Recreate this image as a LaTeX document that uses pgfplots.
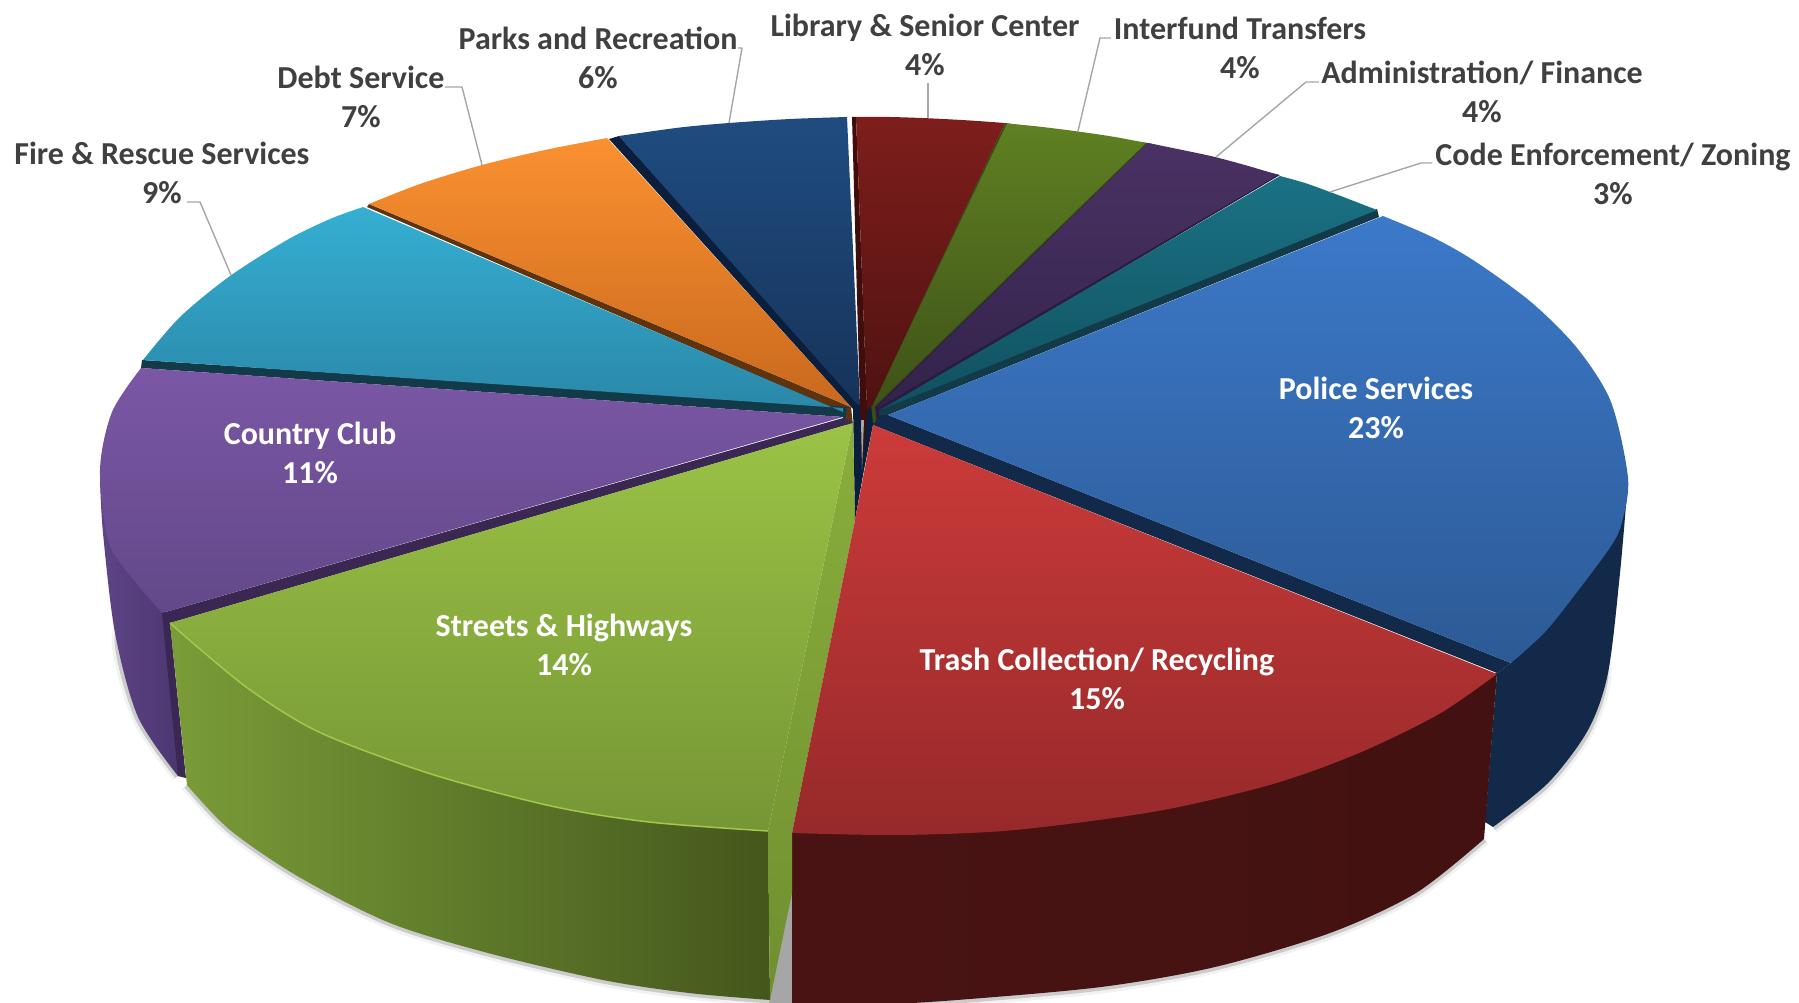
\documentclass[border=0pt]{standalone}
\usepackage{pgfplots}
\pgfplotsset{compat=1.18}
\usepackage{fontspec}
\setmainfont{Carlito}
\definecolor{lab}{HTML}{404040}
\definecolor{lead}{HTML}{A6A6A6}
\definecolor{blueT}{HTML}{3C79C9}\definecolor{blueB}{HTML}{2C5A95}
\definecolor{redT}{HTML}{CC3B3A}\definecolor{redB}{HTML}{97292A}
\definecolor{grnT}{HTML}{9BC346}\definecolor{grnB}{HTML}{769635}
\definecolor{purT}{HTML}{7B57A5}\definecolor{purB}{HTML}{624889}
\definecolor{cyaT}{HTML}{35AFD2}\definecolor{cyaB}{HTML}{2A87A8}
\definecolor{oraT}{HTML}{FA9030}\definecolor{oraB}{HTML}{C9691E}
\definecolor{navT}{HTML}{1F4C80}\definecolor{navB}{HTML}{16335A}
\definecolor{drdT}{HTML}{7E1E1C}\definecolor{drdB}{HTML}{4E1210}
\definecolor{dgrT}{HTML}{5F8022}\definecolor{dgrB}{HTML}{3E5218}
\definecolor{dpuT}{HTML}{4A3264}\definecolor{dpuB}{HTML}{32234A}
\definecolor{tlT}{HTML}{1A7284}\definecolor{tlB}{HTML}{105060}
\definecolor{blueW}{HTML}{12294A}
\definecolor{redW1}{HTML}{4A1313}\definecolor{redW2}{HTML}{380E0E}\definecolor{redW3}{HTML}{431111}
\definecolor{grnW1}{HTML}{7A9C38}\definecolor{grnW2}{HTML}{64802C}\definecolor{grnW3}{HTML}{44571C}
\definecolor{purW1}{HTML}{5E4486}\definecolor{purW2}{HTML}{564080}\definecolor{purW3}{HTML}{4B3670}
\definecolor{purS}{HTML}{3A2752}
\definecolor{cyaS}{HTML}{123A48}
\definecolor{oraS}{HTML}{5E3310}
\definecolor{navS}{HTML}{0B1F3C}
\definecolor{drdS}{HTML}{3F0D0C}
\definecolor{dgrS}{HTML}{3A4E14}
\definecolor{dpuS}{HTML}{2A1C40}
\definecolor{gryS}{HTML}{A6A6A6}
\definecolor{sidT}{HTML}{8AAE3C}\definecolor{sidB}{HTML}{6F8F30}
\definecolor{grnH}{HTML}{A3C84C}
\tikzset{
  f/.style n args={2}{draw=none,top color=#1,bottom color=#2},
  w/.style n args={3}{draw=none,left color=#1,middle color=#2,right color=#3},
  o/.style={draw=none,fill=#1},
  dl/.style={font=\fontsize{32}{39}\selectfont\bfseries,align=center,text=lab,inner sep=0pt},
  il/.style={font=\fontsize{32}{39}\selectfont\bfseries,align=center,text=white,inner sep=0pt},
  ld/.style={draw=lead,line width=1.4pt,line join=round},
  sa/.style={smooth,draw=black,opacity=.05,line width=13pt},
  sb/.style={smooth,draw=black,opacity=.16,line width=7pt}
}
\begin{document}
\begin{tikzpicture}
\path[use as bounding box] (0,0) rectangle (1799pt,1003pt);
\begin{axis}[at={(0,0)},anchor=south west,width=1799pt,height=1003pt,scale only axis,xmin=0,xmax=1799,ymin=0,ymax=1003,y dir=reverse,axis lines=none]
% soft shadow
\addplot[sa] coordinates {(135,590)(118,640)(138,717)(178,776)};
\addplot[sb] coordinates {(135,590)(118,640)(138,717)(178,776)};
\addplot[sa] coordinates {(187,785)(230,830)(299,877)(390,923)(488,953)(603,980)(689,993)(770,1000)};
\addplot[sb] coordinates {(187,785)(230,830)(299,877)(390,923)(488,953)(603,980)(689,993)(770,1000)};
\addplot[sa] coordinates {(1484,839)(1416,893)(1330,933)(1215,967)(1101,987)(957,1000)(860,1006)};
\addplot[sb] coordinates {(1484,839)(1416,893)(1330,933)(1215,967)(1101,987)(957,1000)(860,1006)};
\addplot[sa] coordinates {(1590,610)(1605,673)(1588,730)(1548,783)(1493,827)};
\addplot[sb] coordinates {(1590,610)(1605,673)(1588,730)(1548,783)(1493,827)};
\addplot[o=gryS] coordinates {(792,890)(769,1003)(795,1003)} -- cycle;
% walls
\addplot[smooth,w={blueW}{blueW}{blueW}] coordinates {(1628,480)(1620,573)(1608,673)(1588,730)(1548,783)(1493,827)} -- (axis cs:1485,822) -- (axis cs:1497,673) -- (axis cs:1511,663) -- cycle;
\addplot[smooth,w={purW1}{purW2}{purW3}] coordinates {(100,480)(103,533)(115,633)(138,717)(178,776)} -- (axis cs:184,776) -- (axis cs:170,623) -- cycle;
\addplot[o=purS] coordinates {(162,613)(170,623)(186,778)(178,776)} -- cycle;
\addplot[smooth,w={grnW1}{grnW2}{grnW3}] coordinates {(187,785)(230,830)(299,877)(390,923)(488,953)(603,980)(689,993)(770,1000)} -- (axis cs:768,831) -- (axis cs:170,623) -- cycle;
\addplot[smooth,w={redW1}{redW2}{redW3}] coordinates {(1484,839)(1416,893)(1330,933)(1215,967)(1101,987)(957,1000)(860,1006)} -- (axis cs:792,1010) -- (axis cs:792,833) -- (axis cs:1497,673) -- cycle;
\addplot[f={sidT}{sidB}] coordinates {(853,423)(837,500)(768,831)(770,1000)(792,893)(792,833)(855,520)} -- cycle;
\addplot[o=navS] coordinates {(853,405)(885,405)(888,415)(873,425)(864,470)(855,520)} -- cycle;
% back faces and cut strips
\addplot[o=navS] coordinates {(609,139)(619,136)(860,403)(862,418)(851,407)} -- cycle;
\addplot[o=oraS] coordinates {(369,204)(851,407)(853,425)(845,425)(845,410)(832,408)(367,207)} -- cycle;
\addplot[o=cyaS] coordinates {(142,360)(847,407)(845,425)(843,417)(141,368)} -- cycle;
\addplot[o=purS] coordinates {(162,613)(843,418)(853,423)(170,623)} -- cycle;
\addplot[smooth,f={cyaT}{cyaB}] coordinates {(143,360)(180,317)(230,276)(287,240)(330,219)(363,207)} -- (axis cs:843,412) -- (axis cs:843,408) -- cycle;
\addplot[smooth,f={oraT}{oraB}] coordinates {(369,204)(420,184)(482,165)(545,150)(607,138)} -- (axis cs:851,407) -- cycle;
\addplot[smooth,f={navT}{navB}] coordinates {(619,136)(680,127.5)(729,123)(790,119)(847,117)} -- (axis cs:860,405) -- (axis cs:858,405) -- cycle;
\addplot[smooth,f={purT}{purB}] coordinates {(141,368)(112,412)(100,470)(109,543)(138,585)(162,613)} -- (axis cs:843,417) -- cycle;
\addplot[o=drdS] coordinates {(852,117)(856,117)(867,407)(863,468)(860,405)} -- cycle;
\addplot[o=gryS] coordinates {(861,420)(864,420)(862,470)} -- cycle;
\addplot[o=dgrS] coordinates {(1005,123)(1148,143)(880,410)(877,423)(873,423)(871,405)} -- cycle;
\addplot[smooth,f={drdT}{drdB}] coordinates {(856,117)(890,117)(929,118.3)(970,120.5)(1005,123)} -- (axis cs:873,405) -- (axis cs:867,410) -- cycle;
\addplot[smooth,f={dgrT}{dgrB}] coordinates {(1007,123.5)(1040,126.7)(1078,131.5)(1115,137)(1146,143)} -- (axis cs:875,405) -- (axis cs:873,405) -- cycle;
\addplot[o=dpuS] coordinates {(1148,143)(1280,175)(880,412)(880,423)(877,423)(875,407)} -- cycle;
\addplot[smooth,f={dpuT}{dpuB}] coordinates {(1148,143)(1180,149.5)(1215,157)(1250,166.5)(1278,175)} -- (axis cs:879,407) -- (axis cs:877,407) -- cycle;
\addplot[o=cyaS] coordinates {(1377,209)(1379,217)(888,415)(880,425)(879,410)} -- cycle;
\addplot[smooth,f={tlT}{tlB}] coordinates {(1280,176)(1305,183)(1330,192)(1355,201.5)(1377,210)} -- (axis cs:880,410) -- cycle;
% front faces
\addplot[o=blueW] coordinates {(888,415)(1511,663)(1497,673)(873,425)(880,415)} -- cycle;
\addplot[smooth,f={blueT}{blueB}] coordinates {(1383,216)(1430,236)(1473,260)(1531,302)(1577,348)(1611,402)(1628,478)(1622,522)(1611,546)(1577,592)(1545,632)(1511,663)} -- (axis cs:888,415) -- cycle;
\addplot[smooth,f={redT}{redB}] coordinates {(1497,674)(1439,714)(1359,753)(1273,784)(1158,811)(1015,830)(900,835)(792,833)} -- (axis cs:855,520) -- (axis cs:873,425) -- cycle;
\addplot[smooth,f={grnT}{grnB}] coordinates {(170,623)(201,650)(253,692)(321,733)(431,774)(551,806)(649,822)(768,831)} -- (axis cs:837,500) -- (axis cs:853,423) -- cycle;
\addplot[smooth,draw=grnH,line width=1.5pt] coordinates {(170,623)(201,650)(253,692)(321,733)(431,774)(551,806)(649,822)(768,831)};
% leaders
\addplot[ld] coordinates {(187,202)(200,202)(231,275)};
\addplot[ld] coordinates {(445,87)(462,87)(482,165)};
\addplot[ld] coordinates {(738,48)(742,48)(729,123)};
\addplot[ld] coordinates {(928,83)(928,118)};
\addplot[ld] coordinates {(1111,38)(1100,38)(1078,131)};
\addplot[ld] coordinates {(1319,82)(1306,82)(1216,157)};
\addplot[ld] coordinates {(1432,163)(1421,163)(1330,192)};
% labels
\node[dl] at (axis cs:598,58) {Parks and Recreation\\6\%};
\node[dl] at (axis cs:361,97) {Debt Service\\7\%};
\node[dl] at (axis cs:162,173) {Fire \& Rescue Services\\9\%};
\node[dl] at (axis cs:925,45) {Library \& Senior Center\\4\%};
\node[dl] at (axis cs:1240,48) {Interfund Transfers\\4\%};
\node[dl] at (axis cs:1482,92) {Administration/ Finance\\4\%};
\node[dl] at (axis cs:1613,174) {Code Enforcement/ Zoning\\3\%};
\node[il] at (axis cs:1376,408) {Police Services\\23\%};
\node[il] at (axis cs:1097,679) {Trash Collection/ Recycling\\15\%};
\node[il] at (axis cs:564,645) {Streets \& Highways\\14\%};
\node[il] at (axis cs:310,453) {Country Club\\11\%};
\end{axis}
\end{tikzpicture}
\end{document}
